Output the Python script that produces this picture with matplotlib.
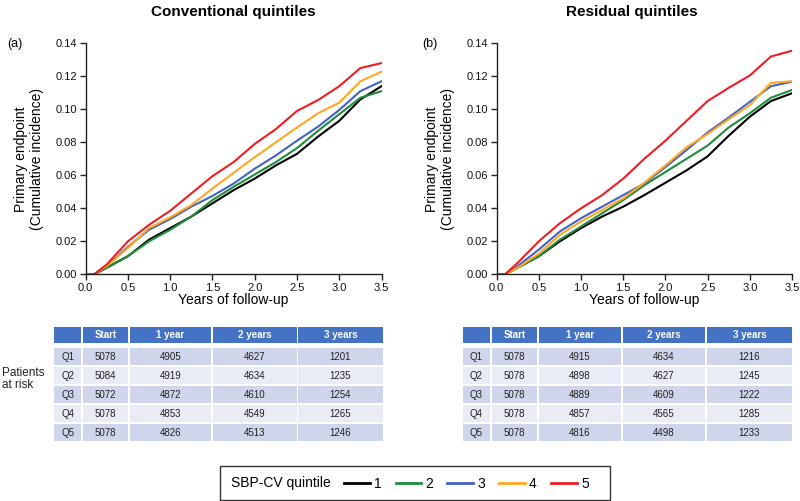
import matplotlib
matplotlib.use('Agg')
import matplotlib.pyplot as plt
from matplotlib.patches import Rectangle
from matplotlib.lines import Line2D

plt.rcParams['font.family'] = ['Liberation Sans', 'DejaVu Sans']

# ---------------- data ----------------
years = [0.0, 0.1, 0.25, 0.5, 0.75, 1.0, 1.25, 1.5, 1.75, 2.0, 2.25, 2.5, 2.75, 3.0, 3.25, 3.5]

conv_q1 = [0, 0, 0.004, 0.011, 0.021, 0.028, 0.035, 0.043, 0.051, 0.058, 0.066, 0.073, 0.0835, 0.093, 0.106, 0.114]
conv_q2 = [0, 0, 0.004, 0.011, 0.020, 0.027, 0.035, 0.045, 0.053, 0.0605, 0.068, 0.0765, 0.087, 0.097, 0.107, 0.111]
conv_q3 = [0, 0, 0.005, 0.0167, 0.027, 0.0335, 0.041, 0.0475, 0.055, 0.064, 0.072, 0.081, 0.0895, 0.0996, 0.111, 0.117]
conv_q4 = [0, 0, 0.005, 0.016, 0.028, 0.0345, 0.042, 0.052, 0.0615, 0.071, 0.080, 0.089, 0.0976, 0.104, 0.117, 0.1228]
conv_q5 = [0, 0, 0.006, 0.020, 0.030, 0.0385, 0.049, 0.0595, 0.068, 0.079, 0.088, 0.099, 0.1056, 0.114, 0.125, 0.128]

resid_q1 = [0, 0, 0.004, 0.011, 0.020, 0.028, 0.035, 0.041, 0.048, 0.0555, 0.063, 0.0715, 0.084, 0.0955, 0.105, 0.1097]
resid_q2 = [0, 0, 0.004, 0.011, 0.021, 0.029, 0.037, 0.045, 0.054, 0.062, 0.070, 0.078, 0.089, 0.0976, 0.107, 0.1117]
resid_q3 = [0, 0, 0.005, 0.015, 0.026, 0.034, 0.041, 0.048, 0.055, 0.065, 0.0753, 0.086, 0.095, 0.1045, 0.114, 0.1167]
resid_q4 = [0, 0, 0.004, 0.0125, 0.024, 0.032, 0.039, 0.046, 0.0555, 0.066, 0.077, 0.085, 0.094, 0.1025, 0.116, 0.117]
resid_q5 = [0, 0, 0.007, 0.020, 0.031, 0.040, 0.048, 0.058, 0.070, 0.081, 0.093, 0.105, 0.113, 0.1205, 0.132, 0.1355]

quintile_labels = ['1', '2', '3', '4', '5']
colors = ['#000000', '#1E8C3C', '#4363C2', '#FFA722', '#EE1D24']

table_cols = ['', 'Start', '1 year', '2 years', '3 years']
row_labels = ['Q1', 'Q2', 'Q3', 'Q4', 'Q5']
conv_risk = [[5078, 4905, 4627, 1201],
             [5084, 4919, 4634, 1235],
             [5072, 4872, 4610, 1254],
             [5078, 4853, 4549, 1265],
             [5078, 4826, 4513, 1246]]
resid_risk = [[5078, 4915, 4634, 1216],
              [5078, 4898, 4627, 1245],
              [5078, 4889, 4609, 1222],
              [5078, 4857, 4565, 1285],
              [5078, 4816, 4498, 1233]]

xticks = [0.0, 0.5, 1.0, 1.5, 2.0, 2.5, 3.0, 3.5]
yticks = [0.00, 0.02, 0.04, 0.06, 0.08, 0.10, 0.12, 0.14]

# ---------------- figure ----------------
W, H = 800, 501
fig = plt.figure(figsize=(W / 100, H / 100), dpi=100)

ov = fig.add_axes([0, 0, 1, 1])
ov.set_xlim(0, W)
ov.set_ylim(H, 0)
ov.axis('off')
ov.patch.set_alpha(0)


def px_axes(x0, x1, y0, y1):
    return fig.add_axes([x0 / W, 1 - y1 / H, (x1 - x0) / W, (y1 - y0) / H])


def style_axes(ax):
    ax.set_xlim(0, 3.5)
    ax.set_ylim(0, 0.14)
    ax.set_xticks(xticks)
    ax.set_yticks(yticks)
    ax.set_xticklabels([f'{v:.1f}' for v in xticks])
    ax.set_yticklabels([f'{v:.2f}' for v in yticks])
    for s in ['top', 'right']:
        ax.spines[s].set_visible(False)
    for s in ['left', 'bottom']:
        ax.spines[s].set_color('#222222')
        ax.spines[s].set_linewidth(1.0)
    ax.tick_params(axis='both', labelsize=8, length=4, width=1.0, color='#222222',
                   labelcolor='#111111', pad=2)
    ax.patch.set_alpha(0)


panels = [
    (85.7, 381.5, 'Conventional quintiles', '(a)', 233, 15, 29,
     [conv_q1, conv_q2, conv_q3, conv_q4, conv_q5], conv_risk, [54, 81, 83, 128, 130, 211, 213, 297, 298, 383]),
    (496.7, 792.0, 'Residual quintiles', '(b)', 632, 430, 440,
     [resid_q1, resid_q2, resid_q3, resid_q4, resid_q5], resid_risk, [463, 490, 492, 537, 539, 621, 623, 705, 707, 792]),
]

for (x0, x1, title, tag, tx, tagx, ylx, series, risk, colx) in panels:
    ax = px_axes(x0, x1, 43.3, 274.3)
    for vals, c in zip(series, colors):
        ax.plot(years, vals, color=c, lw=1.5, solid_joinstyle='miter')
    style_axes(ax)
    fig.text(tx / W, 1 - 12 / H, title, ha='center', va='center', fontsize=11, fontweight='bold')
    fig.text(tagx / W, 1 - 44 / H, tag, ha='center', va='center', fontsize=9)
    fig.text(ylx / W, 1 - 159 / H, 'Primary endpoint\n(Cumulative incidence)', rotation=90,
             ha='center', va='center', fontsize=10, multialignment='center', linespacing=1.15)
    fig.text((x0 + x1) / 2 / W, 1 - 300 / H, 'Years of follow-up', ha='center', va='center', fontsize=10)

    # at-risk table
    cells = [(colx[2 * i], colx[2 * i + 1]) for i in range(5)]
    head_y0, head_y1 = 327, 343
    for (cx0, cx1), lab in zip(cells, table_cols):
        ov.add_patch(Rectangle((cx0, head_y0), cx1 - cx0, head_y1 - head_y0, facecolor='#4472C4', edgecolor='none'))
        if lab:
            ov.text((cx0 + cx1) / 2, (head_y0 + head_y1) / 2, lab, ha='center', va='center',
                    fontsize=7, fontweight='bold', color='white')
    for r, (rl, rowvals) in enumerate(zip(row_labels, risk)):
        ry0 = 348 + r * 19.1
        ry1 = ry0 + 17
        fc = '#CFD5EA' if r % 2 == 0 else '#E9EBF5'
        texts = [rl] + [str(v) for v in rowvals]
        for (cx0, cx1), t in zip(cells, texts):
            ov.add_patch(Rectangle((cx0, ry0), cx1 - cx0, ry1 - ry0, facecolor=fc, edgecolor='none'))
            ov.text((cx0 + cx1) / 2, (ry0 + ry1) / 2, t, ha='center', va='center', fontsize=7, color='#222222')

ov.text(2, 379, 'Patients\nat risk', ha='left', va='center', fontsize=8.5, color='#222222', linespacing=1.1)

# legend box
ov.add_patch(Rectangle((220, 466), 390, 34, facecolor='white', edgecolor='#333333', lw=1.0))
ov.text(231, 483.5, 'SBP-CV quintile', ha='left', va='center', fontsize=10)
leg_x = [344, 395.5, 447, 499, 551]
for lx, c, lab in zip(leg_x, colors, quintile_labels):
    ov.add_line(Line2D([lx, lx + 25.5], [483.3, 483.3], color=c, lw=2.0))
    ov.text(lx + 30, 483.5, lab, ha='left', va='center', fontsize=10)

fig.savefig('out.png', dpi=100)
